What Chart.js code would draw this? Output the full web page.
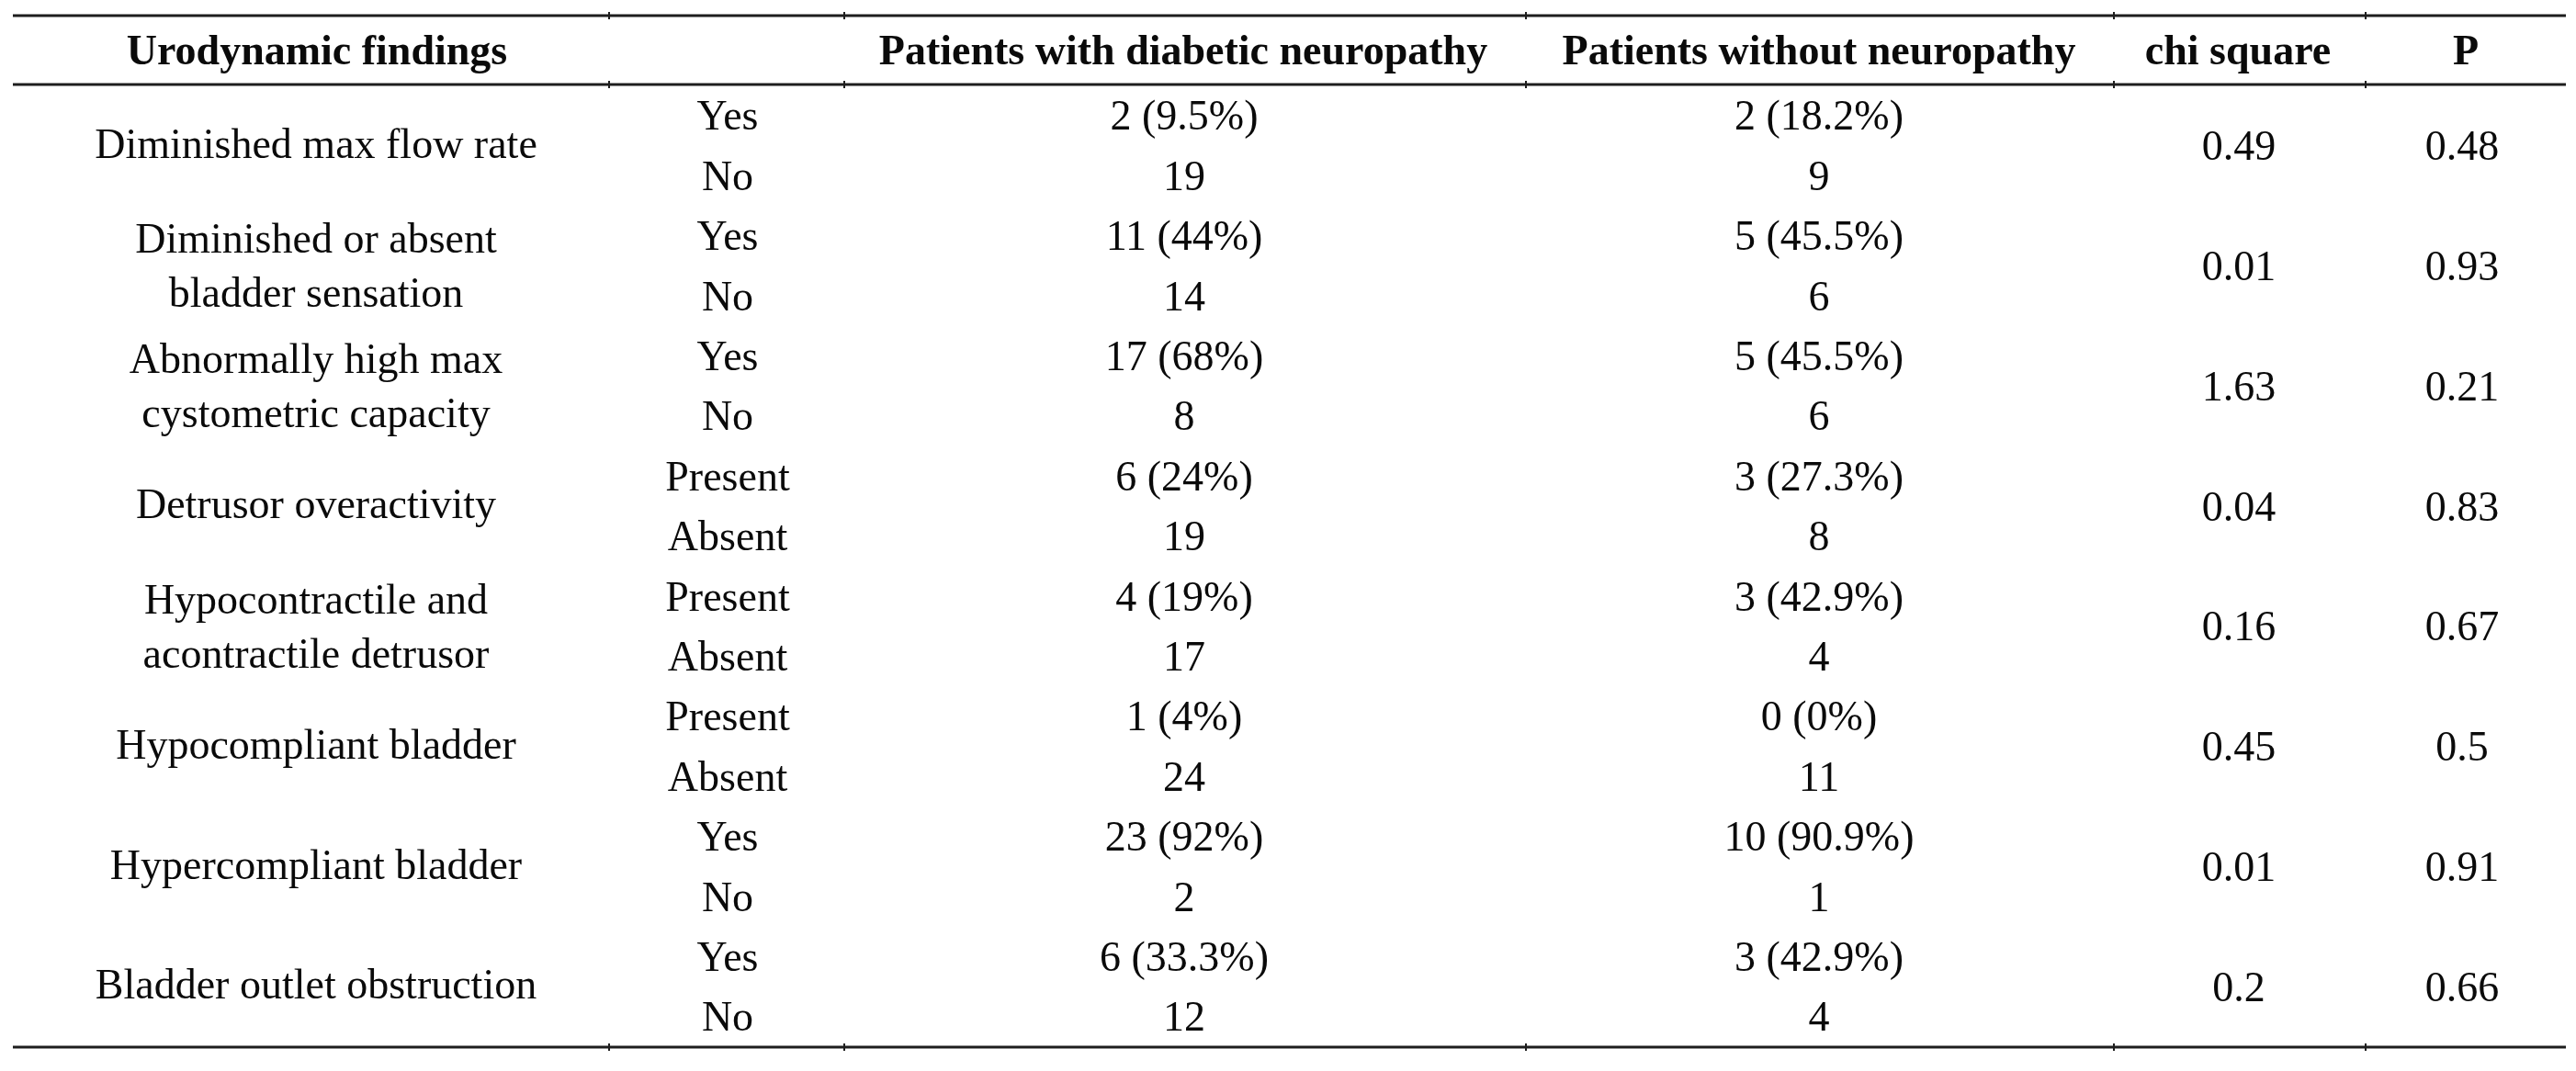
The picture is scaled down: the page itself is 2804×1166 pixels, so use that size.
<!DOCTYPE html>
<html>
<head>
<meta charset="utf-8">
<script src="https://cdn.jsdelivr.net/npm/chart.js@4.4.1/dist/chart.umd.min.js"></script>
<style>
html,body{margin:0;padding:0;background:#fff;overflow:hidden}
#wrap{width:2804px;height:1166px;position:relative}
</style>
</head>
<body>
<div id="wrap"><canvas id="c"></canvas></div>
<script>
// ---------- DATA ----------
const headers = ["Urodynamic findings", "", "Patients with diabetic neuropathy", "Patients without neuropathy", "chi square", "P"];
const findings = [
  ["Diminished max flow rate"],
  ["Diminished or absent", "bladder sensation"],
  ["Abnormally high max", "cystometric capacity"],
  ["Detrusor overactivity"],
  ["Hypocontractile and", "acontractile detrusor"],
  ["Hypocompliant bladder"],
  ["Hypercompliant bladder"],
  ["Bladder outlet obstruction"]
];
const levels = ["Yes","No","Yes","No","Yes","No","Present","Absent","Present","Absent","Present","Absent","Yes","No","Yes","No"];
const withNeuropathy = ["2 (9.5%)","19","11 (44%)","14","17 (68%)","8","6 (24%)","19","4 (19%)","17","1 (4%)","24","23 (92%)","2","6 (33.3%)","12"];
const withoutNeuropathy = ["2 (18.2%)","9","5 (45.5%)","6","5 (45.5%)","6","3 (27.3%)","8","3 (42.9%)","4","0 (0%)","11","10 (90.9%)","1","3 (42.9%)","4"];
const chiSquare = ["0.49","0.01","1.63","0.04","0.16","0.45","0.01","0.2"];
const pValues = ["0.48","0.93","0.21","0.83","0.67","0.5","0.91","0.66"];

// ---------- LAYOUT (not data) ----------
const colCenters = [344, 792, 1289, 1980, 2437, 2680];
const headerCenters = [345, 792, 1288, 1980, 2436, 2684];
const colBounds = [663, 919, 1661, 2301, 2575];
const tableLeft = 14, tableRight = 2793;
const ruleRows = [-1.667, -0.52, 15.505];
const headerRow = -1.086;
const FONT = '"Liberation Serif", "Times New Roman", serif';
const FS = 46;

function pts(col, vals, offset) {
  return vals.map((v, i) => ({x: colCenters[col], y: (offset ? i * 2 + 0.5 : i), label: v}));
}
const datasets = [
  {label: 'findings', data: findings.map((v, i) => ({x: colCenters[0], y: i * 2 + 0.5, label: v}))},
  {label: 'levels', data: pts(1, levels, false)},
  {label: 'with', data: pts(2, withNeuropathy, false)},
  {label: 'without', data: pts(3, withoutNeuropathy, false)},
  {label: 'chi', data: pts(4, chiSquare, true)},
  {label: 'p', data: pts(5, pValues, true)}
].map(d => Object.assign(d, {pointRadius: 0, pointHoverRadius: 0, showLine: false}));

function drawText(ctx, t, x, y, capRatio) {
  // y is the visual centre of the capitals / digits
  ctx.fillText(t, x, y + capRatio * FS);
}

const tablePlugin = {
  id: 'tableText',
  afterDatasetsDraw(chart) {
    const ctx = chart.ctx;
    const xs = chart.scales.x, ys = chart.scales.y;
    ctx.save();
    ctx.fillStyle = '#0a0a0a';
    ctx.textAlign = 'center';
    ctx.textBaseline = 'alphabetic';
    // rules
    ctx.strokeStyle = '#1e1e1e';
    ruleRows.forEach(r => {
      const y = ys.getPixelForValue(r);
      ctx.lineWidth = 3;
      ctx.beginPath();
      ctx.moveTo(xs.getPixelForValue(tableLeft), y);
      ctx.lineTo(xs.getPixelForValue(tableRight), y);
      ctx.stroke();
      ctx.lineWidth = 2;
      colBounds.forEach(b => {
        const x = xs.getPixelForValue(b);
        ctx.beginPath();
        ctx.moveTo(x, y - 4);
        ctx.lineTo(x, y + 4);
        ctx.stroke();
      });
    });
    // headers
    ctx.font = 'bold ' + FS + 'px ' + FONT;
    const hy = ys.getPixelForValue(headerRow);
    headers.forEach((h, i) => {
      if (h) drawText(ctx, h, xs.getPixelForValue(headerCenters[i]), hy, 0.33);
    });
    // body
    ctx.font = FS + 'px ' + FONT;
    chart.data.datasets.forEach((ds, di) => {
      const meta = chart.getDatasetMeta(di);
      meta.data.forEach((el, i) => {
        const lab = ds.data[i].label;
        if (Array.isArray(lab)) {
          if (lab.length === 1) {
            drawText(ctx, lab[0], el.x, el.y - 2, 0.33);
          } else {
            const step = ys.getPixelForValue(ds.data[i].y + 0.45) - el.y;
            drawText(ctx, lab[0], el.x, el.y - step, 0.33);
            drawText(ctx, lab[1], el.x, el.y + step, 0.33);
          }
        } else {
          drawText(ctx, lab, el.x, el.y, 0.335);
        }
      });
    });
    ctx.restore();
  }
};

new Chart(document.getElementById('c'), {
  type: 'scatter',
  data: {datasets},
  options: {
    responsive: true,
    maintainAspectRatio: false,
    animation: false,
    devicePixelRatio: 1,
    layout: {padding: 0},
    plugins: {legend: {display: false}, tooltip: {enabled: false}},
    events: [],
    scales: {
      x: {type: 'linear', min: 0, max: 2804, display: false},
      y: {type: 'linear', reverse: true, min: -126 / 65.4, max: (1166 - 126) / 65.4, display: false}
    }
  },
  plugins: [tablePlugin]
});
</script>
</body>
</html>
